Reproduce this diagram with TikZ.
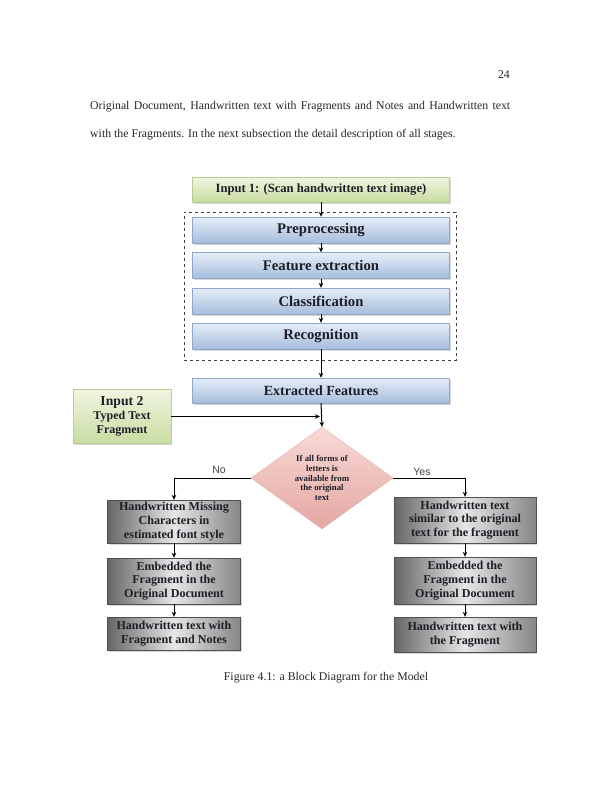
\documentclass[tikz,border=0pt]{standalone}
\usepackage{fontspec}
\newfontfamily\bodyfont{Liberation Serif}
\newfontfamily\boxfont{Liberation Serif}
\newfontfamily\labfont{Liberation Sans}
\usetikzlibrary{shapes.geometric,shadows,arrows.meta}
\definecolor{greenT}{HTML}{F0F5E0}
\definecolor{greenB}{HTML}{C9DCA2}
\definecolor{greenD}{HTML}{B9CC92}
\definecolor{blueT}{HTML}{E6EEF8}
\definecolor{blueB}{HTML}{A6BDDC}
\definecolor{blueD}{HTML}{8EA8CC}
\definecolor{grayL}{HTML}{666666}
\definecolor{grayM}{HTML}{E6E6E6}
\definecolor{grayR}{HTML}{868686}
\definecolor{grayD}{HTML}{505050}
\definecolor{pinkT}{HTML}{F8DAD6}
\definecolor{pinkB}{HTML}{E4A6A2}
\definecolor{pinkD}{HTML}{E0B4B0}
\definecolor{ink}{HTML}{1E1E28}
\begin{document}
\begin{tikzpicture}[x=1pt,y=-1pt,
  every node/.style={inner sep=0pt},
  shad/.style={drop shadow={shadow xshift=1pt,shadow yshift=-1.5pt,opacity=0.3}},
  greenbox/.style={draw=greenD, top color=greenT, bottom color=greenB, shad, text=ink},
  bluebox/.style={draw=blueD, top color=blueT, bottom color=blueB, shad,
     minimum width=257pt, minimum height=26pt, text=ink,
     font=\boxfont\bfseries\fontsize{14.7}{16}\selectfont},
  graybox/.style={draw=grayD, left color=grayL, right color=grayR, middle color=grayM, shad,
     align=center, text=ink, font=\boxfont\bfseries\fontsize{12.1}{13.8}\selectfont},
  conn/.style={line width=1pt, -{Stealth[length=5pt,width=4.5pt]}},
  body/.style={font=\bodyfont\fontsize{11.8}{14}\selectfont, text=black!85}
]
\useasboundingbox[fill=white] (0,0) rectangle (601,790);

% page text
\node[body, anchor=base east] (pg) at (510,78) {24};
\node[body, anchor=base west] (l1) at (90,109) {\makebox[420pt][s]{Original Document, Handwritten text with Fragments and Notes and Handwritten text}};
\node[body, anchor=base west] (l2) at (90,137) {with the Fragments. In the next subsection the detail description of all stages.};
\node[body, anchor=base] (cap) at (326,680) {Figure 4.1: a Block Diagram for the Model};

% dashed frame
\node[draw=black!75, dashed, line width=0.8pt, minimum width=272pt, minimum height=148pt] (frame) at (320,286) {};

% top chain
\node[greenbox, minimum width=257pt, minimum height=25pt, font=\boxfont\bfseries\fontsize{12.6}{14}\selectfont] (in1) at (321,189.5) {Input 1: (Scan handwritten text image)};
\node[bluebox] (pre) at (321,230) {Preprocessing};
\node[bluebox] (fe) at (321,265.5) {Feature extraction};
\node[bluebox] (cls) at (321,301) {Classification};
\node[bluebox] (rec) at (321,336) {Recognition};
\node[bluebox, minimum height=25pt, font=\boxfont\bfseries\fontsize{14}{16}\selectfont] (ext) at (321,390.5) {Extracted Features};

\node[greenbox, minimum width=98pt, minimum height=54pt, align=center, font=\boxfont\bfseries\fontsize{12}{14}\selectfont] (in2) at (122,416.5)
  {{\fontsize{13.7}{14}\selectfont Input 2}\\Typed Text\\Fragment};

\node[diamond, draw=pinkD, top color=pinkT, bottom color=pinkB, minimum width=142pt, minimum height=102pt, inner sep=0pt] (dec) at (322,478) {};
\node[align=center, font=\boxfont\bfseries\fontsize{8.8}{9.7}\selectfont, text=ink] (dtxt) at (dec.center)
  {If all forms of\\letters is\\available from\\the original\\text};

% left branch
\node[graybox, minimum width=133pt, minimum height=43pt] (lb1) at (174,521.5) {Handwritten Missing\\Characters in\\estimated font style};
\node[graybox, minimum width=133pt, minimum height=46pt] (lb2) at (174,581) {Embedded the\\Fragment in the\\Original Document};
\node[graybox, minimum width=133pt, minimum height=33pt] (lb3) at (174,633.5) {Handwritten text with\\Fragment and Notes};

% right branch
\node[graybox, minimum width=142pt, minimum height=46pt] (rb1) at (465,520) {Handwritten text\\similar to the original\\text for the fragment};
\node[graybox, minimum width=142pt, minimum height=47pt] (rb2) at (465,580.5) {Embedded the\\Fragment in the\\Original Document};
\node[graybox, minimum width=142pt, minimum height=35pt] (rb3) at (465,634.5) {Handwritten text with\\the Fragment};

% labels
\node[font=\labfont\fontsize{10.5}{12}\selectfont, text=black!75] (no) at (219,470) {No};
\node[font=\labfont\fontsize{10.5}{12}\selectfont, text=black!75] (yes) at (422,472) {Yes};

% connectors
\draw[conn] (in1.south) -- (pre.north);
\draw[conn] (pre.south) -- (fe.north);
\draw[conn] (fe.south) -- (cls.north);
\draw[conn] (cls.south) -- (rec.north);
\draw[conn] (rec.south) -- (ext.north);
\draw[conn] (ext.south) -- (dec.north);
\coordinate (join) at (ext.south |- in2.east);
\draw[conn] (in2.east) -- ([xshift=-1pt]join);
\draw[conn] (dec.west) -| (lb1.north);
\draw[conn] (dec.east) -| (rb1.north);
\draw[conn] (lb1.south) -- (lb2.north);
\draw[conn] (lb2.south) -- (lb3.north);
\draw[conn] (rb1.south) -- (rb2.north);
\draw[conn] (rb2.south) -- (rb3.north);
\end{tikzpicture}
\end{document}
